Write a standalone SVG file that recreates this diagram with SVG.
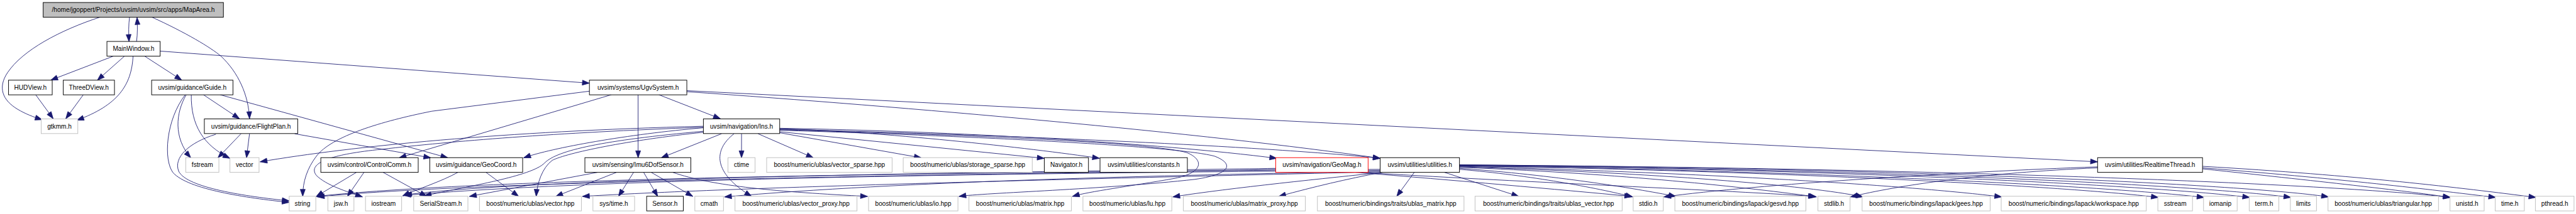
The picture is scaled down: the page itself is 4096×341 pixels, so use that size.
<svg xmlns="http://www.w3.org/2000/svg" width="4096" height="341" viewBox="0 0 4096 341">
<defs>
<style>
.n rect{fill:#ffffff;stroke:#000000;stroke-width:1.2}
.x rect{fill:#ffffff;stroke:#bfbfbf;stroke-width:1.2}
.r rect{fill:#ffffff;stroke:#ff0000;stroke-width:1.2}
.root rect{fill:#bfbfbf;stroke:#000000;stroke-width:1.2}
text{font-family:"Liberation Sans",Arial,sans-serif;font-size:12.7px;fill:#000000;text-anchor:middle}
#edges path{fill:none;stroke:#191970;stroke-width:1.1;marker-end:url(#a)}
</style>
<marker id="a" markerUnits="userSpaceOnUse" markerWidth="16" markerHeight="12" refX="14" refY="5" orient="auto" overflow="visible">
<path d="M0,0 L14,5 L0,10 z" fill="#191970" stroke="#191970" stroke-width="1"/>
</marker>
</defs>
<rect x="0" y="0" width="4096" height="341" fill="#ffffff"/>
<g transform="scale(0.7983)">
<g id="edges">
<path d="M200,34 C120,60 45,100 15,145 C-5,175 5,200 35,218 C50,227 65,233 84,239"/>
<path d="M258,34 C256,50 256,66 257,83"/>
<path d="M272,83 C274,68 274,50 273,35"/>
<path d="M302,34 C370,65 420,95 440,112 C475,145 495,190 497,237"/>
<path d="M226,112 L101,160"/>
<path d="M248,112 L194,160"/>
<path d="M265,112 C262,170 235,210 153,240"/>
<path d="M288,112 L362,160"/>
<path d="M319,102 L1174,166"/>
<path d="M71,189 L106,237"/>
<path d="M166,189 L131,237"/>
<path d="M405,189 L477,237"/>
<path d="M371,189 C350,225 345,275 380,315"/>
<path d="M369,189 C330,240 325,320 345,345 C375,378 490,395 576,404"/>
<path d="M381,189 C380,250 405,290 458,316"/>
<path d="M438,189 L892,315"/>
<path d="M480,267 L434,315"/>
<path d="M497,267 L491,315"/>
<path d="M430,268 C375,285 345,315 356,342 C372,375 490,392 576,401"/>
<path d="M587,267 L858,315"/>
<path d="M1218,189 L795,315"/>
<path d="M1174,182 L860,222 C760,242 660,272 630,312 C612,336 603,362 603,392"/>
<path d="M1312,189 L1435,237"/>
<path d="M1271,189 L1271,315"/>
<path d="M1368,183 C1800,213 2400,265 2749,316"/>
<path d="M1368,181 L4178,323"/>
<path d="M1437,267 L1317,315"/>
<path d="M1477,267 L1477,315"/>
<path d="M1510,267 L1620,315"/>
<path d="M1553,265 L1835,315"/>
<path d="M1553,263 L2080,316"/>
<path d="M1553,257 C1750,262 2050,295 2190,316"/>
<path d="M1553,256 C1900,262 2300,285 2543,316"/>
<path d="M1553,258 C2100,272 2550,295 2749,316"/>
<path d="M1553,259 C1950,270 2300,285 2365,305 C2400,320 2395,345 2340,356 C2250,372 2170,382 2136,392"/>
<path d="M1553,260 C1950,272 2350,292 2420,312 C2460,328 2450,348 2380,358 C2200,378 1960,385 1910,392"/>
<path d="M1401,255 C1250,268 1100,295 1043,315"/>
<path d="M1401,252 C1000,262 700,292 518,323"/>
<path d="M1401,254 C1100,265 900,282 760,298 C640,310 615,330 630,350 C650,370 690,382 722,393"/>
<path d="M1401,262 C1200,280 1110,300 1085,325 C1060,352 930,372 845,391"/>
<path d="M1401,264 C1250,280 1130,305 1100,320 C1080,335 1070,365 1068,392"/>
<path d="M1462,267 C1420,300 1420,345 1497,392"/>
<path d="M968,344 L1033,392"/>
<path d="M912,344 C880,362 830,378 802,391"/>
<path d="M710,344 L630,392"/>
<path d="M725,344 L692,392"/>
<path d="M763,344 L850,392"/>
<path d="M1190,344 L935,392"/>
<path d="M1228,344 L1107,392"/>
<path d="M1262,344 L1232,392"/>
<path d="M1282,344 L1310,392"/>
<path d="M1297,344 L1380,392"/>
<path d="M1340,344 C1420,372 1550,383 1728,392"/>
<path d="M2752,344 C2680,358 2620,372 2547,392"/>
<path d="M2754,344 C2650,355 2450,375 2336,393"/>
<path d="M2750,342 C2300,350 1800,362 1443,393"/>
<path d="M2750,340 C2000,346 1200,356 804,390"/>
<path d="M2750,338 C2000,344 1000,352 630,392"/>
<path d="M2750,343 C2200,356 1500,372 1160,392"/>
<path d="M2541,336 C2200,342 1100,350 806,389"/>
<path d="M2541,338 C2200,346 1000,356 632,393"/>
<path d="M2817,344 L2782,392"/>
<path d="M2877,344 L3025,392"/>
<path d="M2907,338 C3050,350 3180,375 3252,393"/>
<path d="M2907,336 C3100,350 3250,375 3338,392"/>
<path d="M2907,334 C3200,345 3450,370 3618,393"/>
<path d="M2907,333 C3300,345 3600,370 3711,393"/>
<path d="M2907,332 C3400,345 3800,370 3987,393"/>
<path d="M2907,331 C3500,340 4100,370 4299,394"/>
<path d="M2907,331 C3600,340 4200,372 4390,394"/>
<path d="M2907,330 C3700,338 4300,372 4481,394"/>
<path d="M2907,330 C3800,338 4400,372 4563,394"/>
<path d="M2907,329 C3900,337 4500,372 4638,393"/>
<path d="M2907,329 C4000,337 4700,372 4881,394"/>
<path d="M2700,344 C2900,360 3100,378 3250,392"/>
<path d="M2712,344 C3000,362 3400,378 3616,392"/>
<path d="M4178,333 C3900,343 3500,368 3314,393"/>
<path d="M4178,335 C3950,345 3780,370 3686,393"/>
<path d="M4387,332 C4700,350 4900,375 5051,394"/>
<path d="M4387,335 C4700,360 4850,380 4971,394"/>
<path d="M4387,337 C4650,365 4800,382 4880,394"/>
</g>
<g id="n0" class="root"><rect x="86" y="5" width="359" height="29.3"/><text x="265.5" y="24">/home/jgoppert/Projects/uvsim/uvsim/src/apps/MapArea.h</text></g>
<g id="n1" class="n"><rect x="213" y="82.7" width="106" height="29.3"/><text x="266" y="101.7">MainWindow.h</text></g>
<g id="n2" class="n"><rect x="17" y="160" width="87" height="29.3"/><text x="60.5" y="179">HUDView.h</text></g>
<g id="n3" class="n"><rect x="126" y="160" width="102" height="29.3"/><text x="177" y="179">ThreeDView.h</text></g>
<g id="n4" class="x"><rect x="82" y="237.3" width="73" height="29.3"/><text x="118.5" y="256.3">gtkmm.h</text></g>
<g id="n5" class="n"><rect x="302" y="160" width="162" height="29.3"/><text x="383" y="179">uvsim/guidance/Guide.h</text></g>
<g id="n6" class="n"><rect x="407" y="237.3" width="186" height="29.3"/><text x="500" y="256.3">uvsim/guidance/FlightPlan.h</text></g>
<g id="n7" class="n"><rect x="1174" y="160" width="194" height="29.3"/><text x="1271" y="179">uvsim/systems/UgvSystem.h</text></g>
<g id="n8" class="n"><rect x="1401" y="237.3" width="152" height="29.3"/><text x="1477" y="256.3">uvsim/navigation/Ins.h</text></g>
<g id="n9" class="x"><rect x="370" y="314.7" width="66" height="29.3"/><text x="403" y="333.7">fstream</text></g>
<g id="n10" class="x"><rect x="458" y="314.7" width="58" height="29.3"/><text x="487" y="333.7">vector</text></g>
<g id="n11" class="n"><rect x="639" y="314.7" width="194" height="29.3"/><text x="736" y="333.7">uvsim/control/ControlComm.h</text></g>
<g id="n12" class="n"><rect x="856" y="314.7" width="185" height="29.3"/><text x="948.5" y="333.7">uvsim/guidance/GeoCoord.h</text></g>
<g id="n13" class="n"><rect x="1165" y="314.7" width="211" height="29.3"/><text x="1270.5" y="333.7">uvsim/sensing/Imu6DofSensor.h</text></g>
<g id="n14" class="x"><rect x="1450" y="314.7" width="54" height="29.3"/><text x="1477" y="333.7">ctime</text></g>
<g id="n15" class="x"><rect x="1527" y="314.7" width="250" height="29.3"/><text x="1652" y="333.7">boost/numeric/ublas/vector_sparse.hpp</text></g>
<g id="n16" class="x"><rect x="1799" y="314.7" width="257" height="29.3"/><text x="1927.5" y="333.7">boost/numeric/ublas/storage_sparse.hpp</text></g>
<g id="n17" class="n"><rect x="2080" y="314.7" width="88" height="29.3"/><text x="2124" y="333.7">Navigator.h</text></g>
<g id="n18" class="n"><rect x="2191" y="314.7" width="174" height="29.3"/><text x="2278" y="333.7">uvsim/utilities/constants.h</text></g>
<g id="n19" class="r"><rect x="2541" y="314.7" width="184" height="29.3"/><text x="2633" y="333.7">uvsim/navigation/GeoMag.h</text></g>
<g id="n20" class="n"><rect x="2749" y="314.7" width="158" height="29.3"/><text x="2828" y="333.7">uvsim/utilities/utilities.h</text></g>
<g id="n21" class="n"><rect x="4178" y="314.7" width="209" height="29.3"/><text x="4282.5" y="333.7">uvsim/utilities/RealtimeThread.h</text></g>
<g id="n22" class="x"><rect x="576" y="391.7" width="53" height="29.3"/><text x="602.5" y="410.7">string</text></g>
<g id="n23" class="x"><rect x="653" y="391.7" width="52" height="29.3"/><text x="679" y="410.7">jsw.h</text></g>
<g id="n24" class="x"><rect x="728" y="391.7" width="72" height="29.3"/><text x="764" y="410.7">iostream</text></g>
<g id="n25" class="x"><rect x="824" y="391.7" width="108" height="29.3"/><text x="878" y="410.7">SerialStream.h</text></g>
<g id="n26" class="x"><rect x="955" y="391.7" width="203" height="29.3"/><text x="1056.5" y="410.7">boost/numeric/ublas/vector.hpp</text></g>
<g id="n27" class="x"><rect x="1181" y="391.7" width="83" height="29.3"/><text x="1222.5" y="410.7">sys/time.h</text></g>
<g id="n28" class="n"><rect x="1288" y="391.7" width="73" height="29.3"/><text x="1324.5" y="410.7">Sensor.h</text></g>
<g id="n29" class="x"><rect x="1384" y="391.7" width="57" height="29.3"/><text x="1412.5" y="410.7">cmath</text></g>
<g id="n30" class="x"><rect x="1464" y="391.7" width="243" height="29.3"/><text x="1585.5" y="410.7">boost/numeric/ublas/vector_proxy.hpp</text></g>
<g id="n31" class="x"><rect x="1730" y="391.7" width="178" height="29.3"/><text x="1819" y="410.7">boost/numeric/ublas/io.hpp</text></g>
<g id="n32" class="x"><rect x="1930" y="391.7" width="204" height="29.3"/><text x="2032" y="410.7">boost/numeric/ublas/matrix.hpp</text></g>
<g id="n33" class="x"><rect x="2157" y="391.7" width="177" height="29.3"/><text x="2245.5" y="410.7">boost/numeric/ublas/lu.hpp</text></g>
<g id="n34" class="x"><rect x="2357" y="391.7" width="243" height="29.3"/><text x="2478.5" y="410.7">boost/numeric/ublas/matrix_proxy.hpp</text></g>
<g id="n35" class="x"><rect x="2624" y="391.7" width="292" height="29.3"/><text x="2770" y="410.7">boost/numeric/bindings/traits/ublas_matrix.hpp</text></g>
<g id="n36" class="x"><rect x="2938" y="391.7" width="293" height="29.3"/><text x="3084.5" y="410.7">boost/numeric/bindings/traits/ublas_vector.hpp</text></g>
<g id="n37" class="x"><rect x="3253" y="391.7" width="60" height="29.3"/><text x="3283" y="410.7">stdio.h</text></g>
<g id="n38" class="x"><rect x="3336" y="391.7" width="261" height="29.3"/><text x="3466.5" y="410.7">boost/numeric/bindings/lapack/gesvd.hpp</text></g>
<g id="n39" class="x"><rect x="3621" y="391.7" width="64" height="29.3"/><text x="3653" y="410.7">stdlib.h</text></g>
<g id="n40" class="x"><rect x="3709" y="391.7" width="255" height="29.3"/><text x="3836.5" y="410.7">boost/numeric/bindings/lapack/gees.hpp</text></g>
<g id="n41" class="x"><rect x="3986" y="391.7" width="289" height="29.3"/><text x="4130.5" y="410.7">boost/numeric/bindings/lapack/workspace.hpp</text></g>
<g id="n42" class="x"><rect x="4298" y="391.7" width="69" height="29.3"/><text x="4332.5" y="410.7">sstream</text></g>
<g id="n43" class="x"><rect x="4389" y="391.7" width="67" height="29.3"/><text x="4422.5" y="410.7">iomanip</text></g>
<g id="n44" class="x"><rect x="4480" y="391.7" width="59" height="29.3"/><text x="4509.5" y="410.7">term.h</text></g>
<g id="n45" class="x"><rect x="4562" y="391.7" width="52" height="29.3"/><text x="4588" y="410.7">limits</text></g>
<g id="n46" class="x"><rect x="4637" y="391.7" width="220" height="29.3"/><text x="4747" y="410.7">boost/numeric/ublas/triangular.hpp</text></g>
<g id="n47" class="x"><rect x="4880" y="391.7" width="68" height="29.3"/><text x="4914" y="410.7">unistd.h</text></g>
<g id="n48" class="x"><rect x="4970" y="391.7" width="58" height="29.3"/><text x="4999" y="410.7">time.h</text></g>
<g id="n49" class="x"><rect x="5050" y="391.7" width="77" height="29.3"/><text x="5088.5" y="410.7">pthread.h</text></g>
</g>
</svg>
